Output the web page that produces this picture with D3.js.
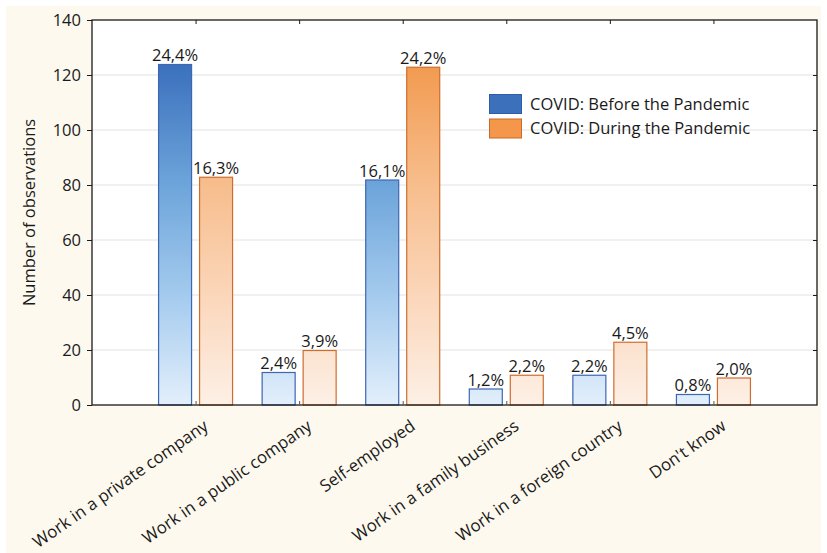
<!DOCTYPE html>
<html>
<head>
<meta charset="utf-8">
<script src="https://cdn.jsdelivr.net/npm/d3@7"></script>
<style>
  html, body { margin: 0; padding: 0; background: #ffffff; }
  svg { display: block; }
  text { font-family: "Open Sans", "Noto Sans", sans-serif; fill: #1a1a1a; }
</style>
</head>
<body>
<svg id="chart" width="827" height="553"></svg>
<script>
// Employment categories and observation counts per COVID period
const categories = [
  "Work in a private company",
  "Work in a public company",
  "Self-employed",
  "Work in a family business",
  "Work in a foreign country",
  "Don't know"
];
const seriesNames = ["COVID: Before the Pandemic", "COVID: During the Pandemic"];
const beforeValues = [124, 12, 82, 6, 11, 4];
const duringValues = [83, 20, 123, 11, 23, 10];
const beforeLabels = ["24,4%", "2,4%", "16,1%", "1,2%", "2,2%", "0,8%"];
const duringLabels = ["16,3%", "3,9%", "24,2%", "2,2%", "4,5%", "2,0%"];
const yTicks = [0, 20, 40, 60, 80, 100, 120, 140];

const svg = d3.select("#chart");
const W = 827, H = 553;
const m = { left: 92, right: 10, top: 20, bottom: 148 };
const plotR = W - m.right, plotB = H - m.bottom;

// cream page panel
svg.append("rect").attr("x", 6).attr("y", 6).attr("width", 815).attr("height", 547)
  .attr("fill", "#fdf9ee");

const y = d3.scaleLinear().domain([0, 140]).range([plotB, m.top]);
// category centres sit on integer positions 1..6 in a 0..7 span
const x = d3.scaleLinear().domain([0, categories.length + 1]).range([m.left, plotR]);
const barW = 34, gap = 3.5;

// gradients span the plot vertically so short bars stay pale
const defs = svg.append("defs");
function grad(id, stops) {
  const g = defs.append("linearGradient").attr("id", id)
    .attr("gradientUnits", "userSpaceOnUse")
    .attr("x1", 0).attr("x2", 0).attr("y1", y(124)).attr("y2", y(0));
  stops.forEach(([o, c]) => g.append("stop").attr("offset", o).attr("stop-color", c));
}
grad("gBlue", [[0, "#3b70bc"], [0.35, "#6ca4da"], [0.7, "#a8cdef"], [1, "#e3effb"]]);
grad("gOrange", [[0, "#f29a4f"], [0.35, "#f7bd8c"], [0.7, "#fbd8bd"], [1, "#fdf0e6"]]);

// plot background
svg.append("rect").attr("x", m.left).attr("y", m.top)
  .attr("width", plotR - m.left).attr("height", plotB - m.top).attr("fill", "#ffffff");

// gridlines
svg.append("g").selectAll("line").data(yTicks.filter(d => d > 0 && d < 140)).join("line")
  .attr("x1", m.left).attr("x2", plotR)
  .attr("y1", d => y(d)).attr("y2", d => y(d))
  .attr("stroke", "#e2e2e2").attr("stroke-width", 1);

// bars
const series = [
  { vals: beforeValues, labels: beforeLabels, fill: "url(#gBlue)", stroke: "#3d66b3", dx: -gap - barW },
  { vals: duringValues, labels: duringLabels, fill: "url(#gOrange)", stroke: "#cf6d2e", dx: gap }
];
series.forEach(s => {
  const g = svg.append("g");
  g.selectAll("rect").data(s.vals).join("rect")
    .attr("x", (d, i) => x(i + 1) + s.dx + 0.5)
    .attr("y", d => y(d) + 0.5)
    .attr("width", barW - 1)
    .attr("height", d => y(0) - y(d) - 0.5)
    .attr("fill", s.fill).attr("stroke", s.stroke).attr("stroke-width", 1.2);
  g.selectAll("text").data(s.vals).join("text")
    .attr("x", (d, i) => x(i + 1) + s.dx + barW / 2)
    .attr("y", d => y(d) - 3)
    .attr("text-anchor", "middle")
    .attr("font-size", 16.5)
    .text((d, i) => s.labels[i]);
});

// frame
svg.append("rect").attr("x", m.left).attr("y", m.top)
  .attr("width", plotR - m.left).attr("height", plotB - m.top)
  .attr("fill", "none").attr("stroke", "#1a1a1a").attr("stroke-width", 1.3);

// left axis
const yAxis = d3.axisLeft(y).tickValues(yTicks).tickSize(5).tickPadding(6).tickFormat(d3.format("d"));
const ya = svg.append("g").attr("transform", `translate(${m.left},0)`).call(yAxis);
ya.select(".domain").remove();
ya.selectAll("line").attr("stroke", "#1a1a1a");
ya.selectAll("text").attr("font-size", 16.5).attr("font-family", "Open Sans, sans-serif").attr("fill", "#1a1a1a");

// right axis ticks (inward)
const yr = svg.append("g").attr("transform", `translate(${plotR},0)`)
  .call(d3.axisLeft(y).tickValues(yTicks.filter(d => d > 0 && d < 140)).tickSize(4).tickFormat(""));
yr.select(".domain").remove();
yr.selectAll("line").attr("stroke", "#1a1a1a");

// top ticks (inward) and bottom ticks (inward) at category centres
const catPos = d3.range(1, categories.length + 1);
const xt = svg.append("g").attr("transform", `translate(0,${m.top})`)
  .call(d3.axisBottom(x).tickValues(catPos).tickSize(4).tickFormat(""));
xt.select(".domain").remove();
xt.selectAll("line").attr("stroke", "#1a1a1a");
const xb = svg.append("g").attr("transform", `translate(0,${plotB})`)
  .call(d3.axisTop(x).tickValues(catPos).tickSize(4).tickFormat(""));
xb.select(".domain").remove();
xb.selectAll("line").attr("stroke", "#555");

// category labels
svg.append("g").selectAll("text").data(categories).join("text")
  .attr("transform", (d, i) => `translate(${x(i + 1) + 7},${plotB + 14}) rotate(-35)`)
  .attr("text-anchor", "end")
  .attr("dy", "0.7em")
  .attr("font-size", 16.8)
  .text(d => d);

// y axis title
svg.append("text")
  .attr("transform", `translate(35,${(m.top + plotB) / 2}) rotate(-90)`)
  .attr("text-anchor", "middle")
  .attr("font-size", 16.5)
  .text("Number of observations");

// legend
const lg = svg.append("g").attr("transform", "translate(489,94)");
const legendFill = ["#3c70bb", "#f4974b"], legendStroke = ["#2e5ca8", "#c8692b"];
seriesNames.forEach((n, i) => {
  lg.append("rect").attr("x", 0.5).attr("y", i * 24.5 + 0.5).attr("width", 32).attr("height", 19)
    .attr("fill", legendFill[i]).attr("stroke", legendStroke[i]);
  lg.append("text").attr("x", 41).attr("y", i * 24.5 + 10).attr("dy", "0.35em")
    .attr("font-size", 16.5).text(n);
});
</script>
</body>
</html>
